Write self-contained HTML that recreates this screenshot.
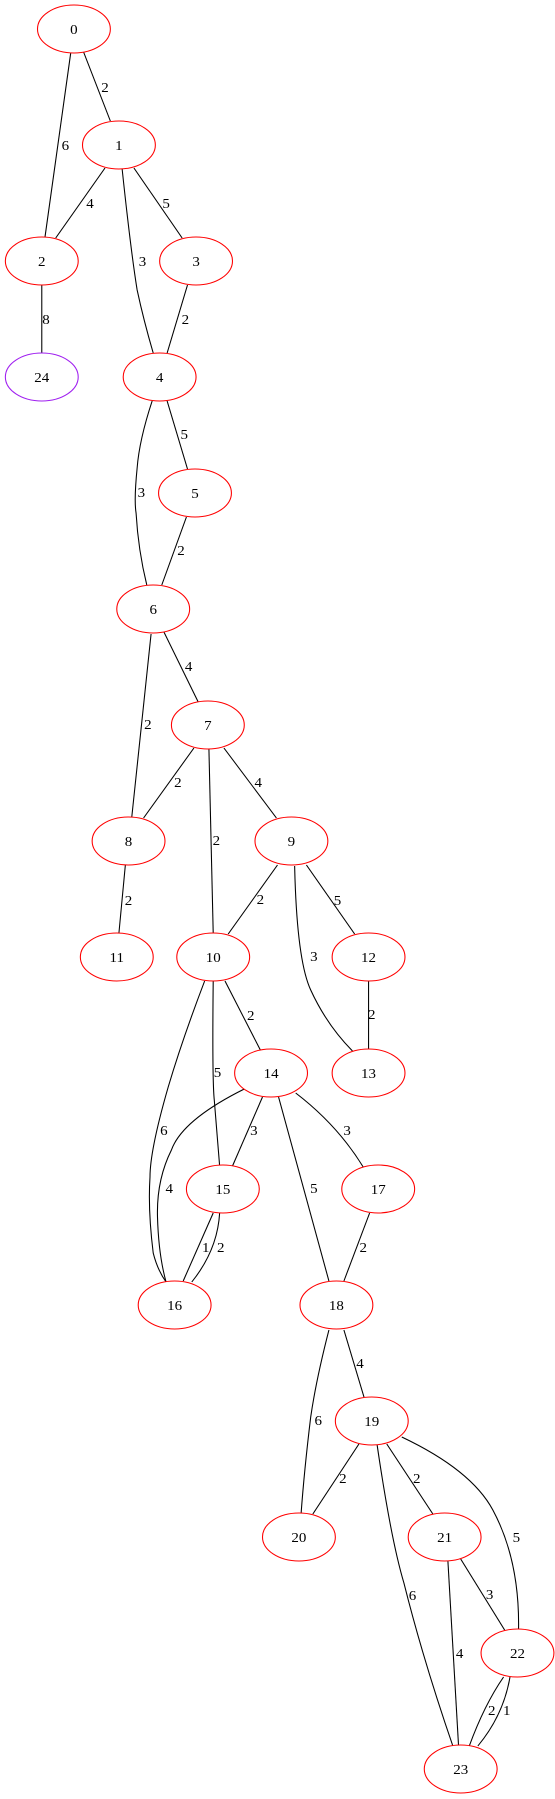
<!DOCTYPE html>
<html><head><meta charset="utf-8"><style>
html,body{margin:0;padding:0;background:#fff;}
svg{display:block;}
text{font-family:"Liberation Serif",serif;font-size:14px;fill:#000;}
</style></head><body>
<svg width="555" height="1799" viewBox="0 0 555 1799" xmlns="http://www.w3.org/2000/svg">
<g transform="scale(1.0714,1)">
<g fill="none" stroke="#000" stroke-width="1">
<path d="M66,53 L42,237"/>
<path d="M78,52 L103,121"/>
<path d="M98,168 L52,238"/>
<path d="M125,168 L170,238"/>
<path d="M114,169 Q122,250 128,290 Q134,320 143,353"/>
<path d="M175,285 L156,353"/>
<path d="M39,285 L39,353"/>
<path d="M142,401 Q130,440 128,468 Q125,500 127,513 Q129,550 137,585"/>
<path d="M156,401 L175,469"/>
<path d="M174,517 L151,585"/>
<path d="M141,634 L123,817"/>
<path d="M153,632 L185,702"/>
<path d="M181,748 L134,818"/>
<path d="M195,749 L199,933"/>
<path d="M209,748 L258,818"/>
<path d="M117,865 L111,933"/>
<path d="M259,865 L213,934"/>
<path d="M275,866 Q277,960 290,990 Q305,1025 329,1051"/>
<path d="M286,865 L331,934"/>
<path d="M344,981 L344,1049"/>
<path d="M210,981 L243,1050"/>
<path d="M191,981 Q170,1040 157,1087 Q140,1150 140,1177 Q138,1210 143,1253 Q147,1270 155,1282"/>
<path d="M199,981 Q198,1080 200,1100 Q203,1140 205,1166"/>
<path d="M228,1089 Q170,1120 160,1150 Q146,1180 147,1217 Q148,1255 155,1282"/>
<path d="M245,1097 L217,1166"/>
<path d="M260,1097 L307,1281"/>
<path d="M276,1093 Q315,1125 339,1167"/>
<path d="M199,1213 L171,1281"/>
<path d="M205,1213 Q203,1250 179,1282"/>
<path d="M345,1213 L321,1281"/>
<path d="M307,1330 Q295,1380 290,1417 Q284,1470 281,1514"/>
<path d="M321,1330 L340,1398"/>
<path d="M335,1444 L292,1514"/>
<path d="M361,1444 L404,1514"/>
<path d="M352,1445 Q365,1540 377,1583 Q395,1660 423,1747"/>
<path d="M375,1437 Q440,1470 460,1510 Q485,1560 484,1629"/>
<path d="M418,1560 L428,1746"/>
<path d="M430,1559 L471,1630"/>
<path d="M470,1677 Q452,1705 438,1746"/>
<path d="M476,1677 Q470,1715 446,1746"/>
</g>
<g fill="#fff" stroke="#ff0000" stroke-width="1">
<ellipse cx="69" cy="29" rx="34" ry="24"/>
<ellipse cx="111" cy="145" rx="34" ry="24"/>
<ellipse cx="39" cy="261" rx="34" ry="24"/>
<ellipse cx="183" cy="261" rx="34" ry="24"/>
<ellipse cx="149" cy="377" rx="34" ry="24"/>
<ellipse cx="182" cy="493" rx="34" ry="24"/>
<ellipse cx="143" cy="609" rx="34" ry="24"/>
<ellipse cx="194" cy="725" rx="34" ry="24"/>
<ellipse cx="120" cy="841" rx="34" ry="24"/>
<ellipse cx="272" cy="841" rx="34" ry="24"/>
<ellipse cx="109" cy="957" rx="34" ry="24"/>
<ellipse cx="199" cy="957" rx="34" ry="24"/>
<ellipse cx="344" cy="957" rx="34" ry="24"/>
<ellipse cx="253" cy="1073" rx="34" ry="24"/>
<ellipse cx="344" cy="1073" rx="34" ry="24"/>
<ellipse cx="208" cy="1189" rx="34" ry="24"/>
<ellipse cx="353" cy="1189" rx="34" ry="24"/>
<ellipse cx="163" cy="1305" rx="34" ry="24"/>
<ellipse cx="314" cy="1305" rx="34" ry="24"/>
<ellipse cx="347" cy="1421" rx="34" ry="24"/>
<ellipse cx="279" cy="1537" rx="34" ry="24"/>
<ellipse cx="415" cy="1537" rx="34" ry="24"/>
<ellipse cx="483" cy="1653" rx="34" ry="24"/>
<ellipse cx="430" cy="1769" rx="34" ry="24"/>
</g>
<ellipse cx="39" cy="377" rx="34" ry="24" fill="#fff" stroke="#a020f0"/>
<g text-anchor="middle">
<text x="69" y="34">0</text>
<text x="111" y="150">1</text>
<text x="39" y="266">2</text>
<text x="183" y="266">3</text>
<text x="39" y="382">24</text>
<text x="149" y="382">4</text>
<text x="182" y="498">5</text>
<text x="143" y="614">6</text>
<text x="194" y="730">7</text>
<text x="120" y="846">8</text>
<text x="272" y="846">9</text>
<text x="109" y="962">11</text>
<text x="199" y="962">10</text>
<text x="344" y="962">12</text>
<text x="253" y="1078">14</text>
<text x="344" y="1078">13</text>
<text x="208" y="1194">15</text>
<text x="353" y="1194">17</text>
<text x="163" y="1310">16</text>
<text x="314" y="1310">18</text>
<text x="347" y="1426">19</text>
<text x="279" y="1542">20</text>
<text x="415" y="1542">21</text>
<text x="483" y="1658">22</text>
<text x="430" y="1774">23</text>
</g>
<g text-anchor="middle">
<text x="61" y="150">6</text>
<text x="98" y="92">2</text>
<text x="84" y="208">4</text>
<text x="155" y="208">5</text>
<text x="133" y="266">3</text>
<text x="173" y="324">2</text>
<text x="43" y="324">8</text>
<text x="132" y="497">3</text>
<text x="172" y="439">5</text>
<text x="169" y="555">2</text>
<text x="138" y="729">2</text>
<text x="176" y="671">4</text>
<text x="166" y="787">2</text>
<text x="202" y="845">2</text>
<text x="241" y="787">4</text>
<text x="120" y="905">2</text>
<text x="243" y="904">2</text>
<text x="293" y="961">3</text>
<text x="315" y="905">5</text>
<text x="347" y="1019">2</text>
<text x="234" y="1020">2</text>
<text x="153" y="1135">6</text>
<text x="203" y="1077">5</text>
<text x="158" y="1193">4</text>
<text x="237" y="1135">3</text>
<text x="293" y="1193">5</text>
<text x="324" y="1135">3</text>
<text x="192" y="1252">1</text>
<text x="206" y="1252">2</text>
<text x="339" y="1252">2</text>
<text x="297" y="1425">6</text>
<text x="336" y="1368">4</text>
<text x="320" y="1483">2</text>
<text x="389" y="1483">2</text>
<text x="385" y="1600">6</text>
<text x="482" y="1542">5</text>
<text x="429" y="1658">4</text>
<text x="457" y="1599">3</text>
<text x="459" y="1715">2</text>
<text x="473" y="1715">1</text>
</g>
</g>
</svg>
</body></html>
